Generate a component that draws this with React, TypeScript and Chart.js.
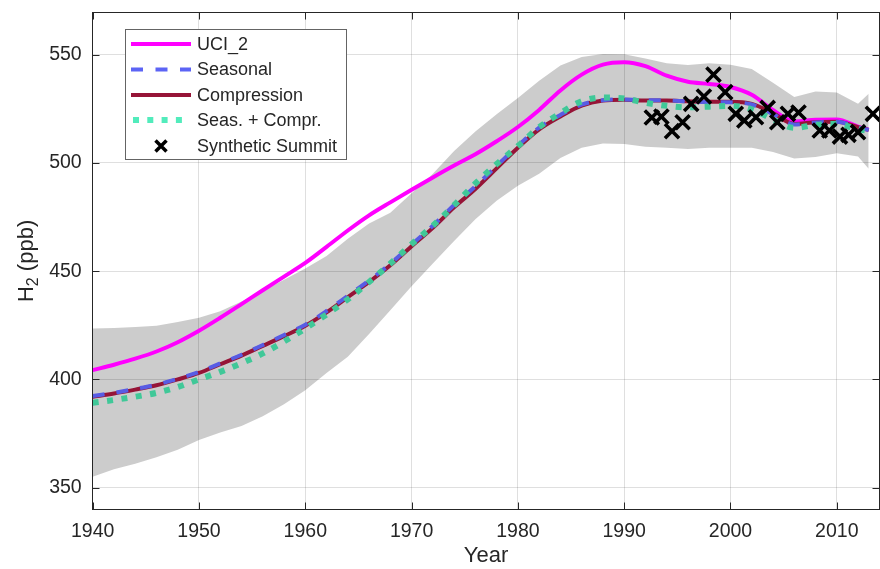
import React, { useEffect, useRef } from 'react';
import { Chart, registerables } from 'chart.js';

Chart.register(...registerables);

const years = [1940, 1942, 1944, 1946, 1948, 1950, 1952, 1954, 1956, 1958, 1960, 1962, 1964, 1966, 1968, 1970, 1972, 1974, 1976, 1978, 1980, 1982, 1984, 1986, 1988, 1990, 1992, 1994, 1996, 1998, 2000, 2002, 2004, 2006, 2008, 2010, 2012, 2013];
const uci2 = [404.3, 406.8, 409.6, 412.9, 417.2, 422.5, 428.5, 434.8, 441.2, 447.5, 453.8, 461.2, 468.8, 475.8, 481.8, 487.6, 493.3, 498.8, 504, 510, 516.6, 524.5, 533.5, 540.8, 545.4, 546.5, 544.7, 540.3, 537.5, 536.5, 535.1, 531.5, 524.5, 519.2, 520, 520.1, 516.8, 515.3];
const seasonal = [392.3, 393.8, 395.6, 397.6, 400.3, 403.4, 407.4, 411.4, 415.9, 420.5, 425.3, 431.6, 438.6, 445.7, 453.4, 462.3, 471, 480.6, 489.2, 498.6, 508, 516.3, 522.2, 526.9, 529, 529.3, 529, 528.9, 528.4, 528.1, 528, 527, 522.6, 517.8, 518.7, 519, 516.4, 515.2];
const compression = [392, 393.5, 395.3, 397.3, 400, 403, 407, 411, 415.5, 420, 424.8, 431, 438, 445, 452.7, 461.5, 470, 479.5, 488, 497.5, 507, 515.5, 521.5, 526.5, 528.8, 529.2, 528.8, 528.8, 528.5, 528.3, 528.3, 527.3, 523, 518, 518.8, 519, 516.5, 515.3];
const seasCompr = [389.2, 390.5, 392, 393.8, 396.5, 400, 403.5, 407.5, 412, 417.5, 423.5, 430, 437, 445, 453.5, 462.5, 471, 480.5, 490.5, 499.5, 507.8, 516.5, 523, 528.5, 530.2, 529.8, 527.8, 526.4, 525.7, 526, 526.4, 524.8, 520.1, 516.2, 517.6, 518, 515.5, 515];
const bandLow = [355, 358.5, 361, 364, 367.5, 372, 375.5, 378.5, 383, 388.5, 395, 403, 410.5, 421, 432, 443, 453.5, 464, 474, 482.5, 489.5, 495, 502.3, 507, 509, 508.8, 507.5, 507, 506.5, 507, 507, 507, 505, 502, 502.7, 504.5, 503, 497.3];
const bandHigh = [423.5, 423.8, 424.2, 424.8, 426.5, 428.5, 431.5, 436, 441, 446, 451.2, 457, 465, 472, 477, 486, 495, 505.5, 514.5, 522.5, 530, 538, 545, 549, 550.3, 550.2, 548.3, 546, 545.2, 546, 545.4, 543.4, 537, 530.5, 533, 532.5, 527.3, 532];
const summitYears = [1992.6, 1993.5, 1994.5, 1995.5, 1996.3, 1997.5, 1998.4, 1999.5, 2000.5, 2001.3, 2002.4, 2003.5, 2004.4, 2005.4, 2006.4, 2008.4, 2009.3, 2010.3, 2011.1, 2012, 2013.4];
const summitH2 = [521, 521.4, 514.7, 518.8, 527.3, 530.7, 540.8, 532.7, 522.7, 519.6, 521.1, 525.4, 518.8, 522.7, 523.3, 515, 515, 512.2, 513, 514.2, 522.7];
const xTicks = [1940, 1950, 1960, 1970, 1980, 1990, 2000, 2010];
const yTicks = [350, 400, 450, 500, 550];
const legendLabels = ['UCI_2', 'Seasonal', 'Compression', 'Seas. + Compr.', 'Synthetic Summit'];

const FONT = "'Liberation Sans', Arial, Helvetica, sans-serif";
const TEXT = '#262626';
const MAGENTA = '#ff00ff';
const BLUE = 'rgb(88,92,228)';
const RED = 'rgb(150,20,55)';
const GREEN = 'rgb(64,200,152)';
const GREEN_LEG = 'rgb(82,236,188)';

const pts = (ys: number[]) => years.map((x, i) => ({ x, y: ys[i] }));

const noPad = (s: any) => {
  s.paddingTop = 0;
  s.paddingBottom = 0;
  s.paddingLeft = 0;
  s.paddingRight = 0;
};

export default function App() {
  const ref = useRef<HTMLCanvasElement>(null);

  useEffect(() => {
    document.body.style.margin = '0';
    const canvas = ref.current!;

    const framePlugin = {
      id: 'frame',
      afterDraw(chart: any) {
        const { ctx, chartArea: a, scales } = chart;
        const L = Math.floor(a.left) + 0.5;
        const R = Math.floor(a.right) + 0.5;
        const T = Math.floor(a.top) + 0.5;
        const B = Math.floor(a.bottom) + 0.5;
        ctx.save();
        ctx.strokeStyle = TEXT;
        ctx.lineWidth = 1;
        ctx.setLineDash([]);
        ctx.strokeRect(L, T, R - L, B - T);
        const tl = 7;
        ctx.beginPath();
        yTicks.forEach((v) => {
          const y = Math.round(scales.y.getPixelForValue(v)) + 0.5;
          ctx.moveTo(L, y); ctx.lineTo(L + tl, y);
          ctx.moveTo(R, y); ctx.lineTo(R - tl, y);
        });
        xTicks.forEach((v) => {
          const x = Math.round(scales.x.getPixelForValue(v)) + 0.5;
          ctx.moveTo(x, B); ctx.lineTo(x, B - tl);
          ctx.moveTo(x, T); ctx.lineTo(x, T + tl);
        });
        ctx.stroke();

        // axis titles
        ctx.fillStyle = TEXT;
        ctx.font = `22px ${FONT}`;
        ctx.textAlign = 'center';
        ctx.textBaseline = 'alphabetic';
        ctx.fillText('Year', (a.left + a.right) / 2, 562);

        ctx.save();
        ctx.translate(33, (a.top + a.bottom) / 2);
        ctx.rotate(-Math.PI / 2);
        ctx.textAlign = 'left';
        ctx.font = `22px ${FONT}`;
        const wH = ctx.measureText('H').width;
        const wRest = ctx.measureText(' (ppb)').width;
        ctx.font = `16px ${FONT}`;
        const w2 = ctx.measureText('2').width;
        const total = wH + w2 + wRest;
        let x0 = -total / 2;
        ctx.font = `22px ${FONT}`;
        ctx.fillText('H', x0, 0);
        x0 += wH;
        ctx.font = `16px ${FONT}`;
        ctx.fillText('2', x0, 5);
        x0 += w2;
        ctx.font = `22px ${FONT}`;
        ctx.fillText(' (ppb)', x0, 0);
        ctx.restore();

        // legend
        const bx = 125.5, by = 29.5, bw = 221, bh = 130;
        ctx.fillStyle = '#ffffff';
        ctx.fillRect(bx, by, bw, bh);
        ctx.strokeStyle = 'rgb(100,100,100)';
        ctx.lineWidth = 1;
        ctx.strokeRect(bx, by, bw, bh);
        const rowY = [44, 69.5, 95, 120, 146];
        ctx.font = `18px ${FONT}`;
        ctx.textAlign = 'left';
        ctx.textBaseline = 'middle';
        legendLabels.forEach((lab, i) => {
          const y = rowY[i];
          ctx.save();
          ctx.lineCap = 'butt';
          if (i === 0) {
            ctx.strokeStyle = MAGENTA; ctx.lineWidth = 4; ctx.setLineDash([]);
            ctx.beginPath(); ctx.moveTo(131, y); ctx.lineTo(191, y); ctx.stroke();
          } else if (i === 1) {
            ctx.strokeStyle = 'rgb(92,100,245)'; ctx.lineWidth = 4; ctx.setLineDash([12, 12.5]);
            ctx.beginPath(); ctx.moveTo(131, y); ctx.lineTo(191, y); ctx.stroke();
          } else if (i === 2) {
            ctx.strokeStyle = RED; ctx.lineWidth = 4; ctx.setLineDash([]);
            ctx.beginPath(); ctx.moveTo(131, y); ctx.lineTo(191, y); ctx.stroke();
          } else if (i === 3) {
            ctx.strokeStyle = GREEN_LEG; ctx.lineWidth = 6; ctx.setLineDash([6, 8.3]);
            ctx.beginPath(); ctx.moveTo(133, y); ctx.lineTo(182, y); ctx.stroke();
          } else {
            ctx.strokeStyle = '#000'; ctx.lineWidth = 3.5; ctx.setLineDash([]);
            const cx = 161, s = 5.5;
            ctx.beginPath();
            ctx.moveTo(cx - s, y - s); ctx.lineTo(cx + s, y + s);
            ctx.moveTo(cx + s, y - s); ctx.lineTo(cx - s, y + s);
            ctx.stroke();
          }
          ctx.restore();
          ctx.fillStyle = TEXT;
          ctx.fillText(lab, 197, y + 1);
        });
        ctx.restore();
      },
    };

    const line = (label: string, ys: number[], color: string, width: number, order: number, dash: number[] = []) => ({
      label,
      data: pts(ys),
      borderColor: color,
      backgroundColor: color,
      borderWidth: width,
      borderDash: dash,
      borderCapStyle: 'butt' as const,
      pointRadius: 0,
      cubicInterpolationMode: 'monotone' as const,
      fill: false,
      order,
    });

    const chart = new Chart(canvas, {
      type: 'line',
      data: {
        datasets: [
          {
            label: 'low',
            data: pts(bandLow),
            borderWidth: 0,
            borderColor: 'rgba(0,0,0,0)',
            pointRadius: 0,
            fill: false,
            tension: 0,
            order: 7,
          },
          {
            label: 'high',
            data: pts(bandHigh),
            borderWidth: 0,
            borderColor: 'rgba(0,0,0,0)',
            backgroundColor: 'rgba(0,0,0,0.2)',
            pointRadius: 0,
            fill: '-1',
            tension: 0,
            order: 6,
          },
          line('UCI_2', uci2, MAGENTA, 4, 5),
          line('Compression', compression, RED, 4, 4),
          line('Seasonal', seasonal, BLUE, 4, 3, [12, 12]),
          line('Seas. + Compr.', seasCompr, GREEN, 6, 2, [6, 8.5]),
          {
            label: 'Synthetic Summit',
            data: summitYears.map((x, i) => ({ x, y: summitH2[i] })),
            showLine: false,
            pointStyle: 'crossRot',
            pointRadius: 10,
            pointBorderWidth: 3.6,
            pointBorderColor: '#000',
            borderColor: '#000',
            backgroundColor: '#000',
            order: 1,
          },
        ],
      },
      options: {
        responsive: false,
        animation: false,
        devicePixelRatio: 1,
        layout: { autoPadding: false, padding: { top: 12.5, right: 0.7, left: 0, bottom: 0 } },
        plugins: {
          legend: { display: false },
          tooltip: { enabled: false },
        },
        scales: {
          x: {
            type: 'linear',
            min: 1940,
            max: 2014,
            afterBuildTicks: (s: any) => { s.ticks = xTicks.map((v) => ({ value: v })); },
            afterFit: (s: any) => { s.height = 59.7; noPad(s); },
            border: { display: false },
            grid: { color: 'rgba(38,38,38,0.15)', drawTicks: false },
            ticks: {
              color: TEXT,
              font: { family: FONT, size: 19.5 },
              padding: 11,
              maxRotation: 0,
              callback: (v: any) => String(v),
            },
          },
          y: {
            type: 'linear',
            min: 340,
            max: 569.5,
            afterBuildTicks: (s: any) => { s.ticks = yTicks.map((v) => ({ value: v })); },
            afterFit: (s: any) => { s.width = 92.7; noPad(s); },
            border: { display: false },
            grid: { color: 'rgba(38,38,38,0.15)', drawTicks: false },
            ticks: {
              color: TEXT,
              font: { family: FONT, size: 19.5 },
              padding: 11,
              callback: (v: any) => String(v),
            },
          },
        },
      },
      plugins: [framePlugin],
    });

    return () => chart.destroy();
  }, []);

  return (
    <div style={{ width: 880, height: 569, background: '#fff' }}>
      <canvas ref={ref} width={880} height={569} style={{ display: 'block' }} />
    </div>
  );
}
